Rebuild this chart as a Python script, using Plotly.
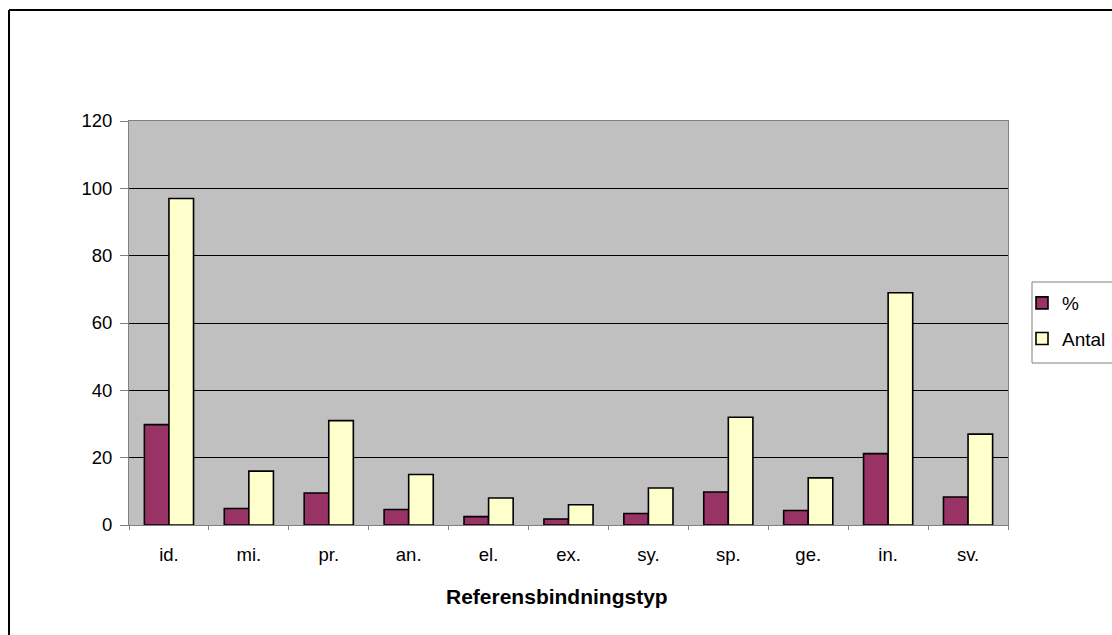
import plotly.graph_objects as go

# Reference binding types and their counts / shares
categories = ["id.", "mi.", "pr.", "an.", "el.", "ex.", "sy.", "sp.", "ge.", "in.", "sv."]
procent = [29.8, 4.9, 9.5, 4.6, 2.5, 1.8, 3.4, 9.8, 4.3, 21.2, 8.3]
antal = [97, 16, 31, 15, 8, 6, 11, 32, 14, 69, 27]
y_ticks = [0, 20, 40, 60, 80, 100, 120]

FONT = "Liberation Sans, Arial, sans-serif"

fig = go.Figure()
fig.add_trace(go.Bar(
    name="%", x=categories, y=procent, legendgroup="pct",
    marker=dict(color="#993366", line=dict(color="#000000", width=1.6)),
))
fig.add_trace(go.Bar(
    name="Antal", x=categories, y=antal, legendgroup="antal",
    marker=dict(color="#FFFFCC", line=dict(color="#000000", width=1.6)),
))

W, H = 1112, 635
L, R, T, B = 129, 104, 121, 110
pw, ph = W - L - R, H - T - B


def px_x(x):
    return (x - L) / pw


def px_y(y):
    return (H - B - y) / ph


# Outer chart frame: only its left and top edges fall inside the canvas
fx, fy = px_x(9), px_y(10)
fig.add_shape(type="line", xref="paper", yref="paper",
              x0=fx, x1=fx, y0=-1.0, y1=fy,
              line=dict(color="#000000", width=2))
fig.add_shape(type="line", xref="paper", yref="paper",
              x0=fx, x1=1.5, y0=fy, y1=fy,
              line=dict(color="#000000", width=2))

# Legend box, running off the right edge of the canvas
fig.add_shape(type="rect", xref="paper", yref="paper",
              x0=px_x(1032), x1=px_x(1130), y0=px_y(363), y1=px_y(282),
              line=dict(color="#808080", width=1), fillcolor="#FFFFFF")

# Category-axis title
fig.add_annotation(
    text="<b>Referensbindningstyp</b>", xref="paper", yref="paper",
    x=px_x(557), y=px_y(596), xanchor="center", yanchor="middle",
    showarrow=False, font=dict(family=FONT, size=21, color="#000000"),
)

fig.update_layout(
    width=W, height=H,
    margin=dict(l=L, r=R, t=T, b=B, autoexpand=False),
    paper_bgcolor="#FFFFFF",
    plot_bgcolor="#C0C0C0",
    barmode="group",
    bargap=0.385,
    bargroupgap=0.0,
    font=dict(family=FONT, size=18.5, color="#000000"),
    showlegend=True,
    legend=dict(
        x=px_x(1022), y=px_y(284),
        xanchor="left", yanchor="top",
        bgcolor="rgba(0,0,0,0)", borderwidth=0,
        font=dict(family=FONT, size=19, color="#000000"),
        traceorder="grouped",
        tracegroupgap=8,
    ),
    xaxis=dict(
        type="category",
        showgrid=False,
        showline=True, linecolor="#808080", linewidth=1, mirror=True,
        ticks="outside", tickson="boundaries", ticklen=4, tickcolor="#808080",
        ticklabelstandoff=13,
        tickfont=dict(family=FONT, size=18.5),
    ),
    yaxis=dict(
        range=[0, 120],
        tickvals=y_ticks,
        showgrid=True, gridcolor="#000000", gridwidth=1,
        zeroline=False,
        showline=True, linecolor="#808080", linewidth=1, mirror=True,
        ticks="outside", ticklen=8, tickcolor="#808080",
        ticklabelstandoff=4,
        tickfont=dict(family=FONT, size=18.5),
    ),
)

fig.write_html("out.html")
